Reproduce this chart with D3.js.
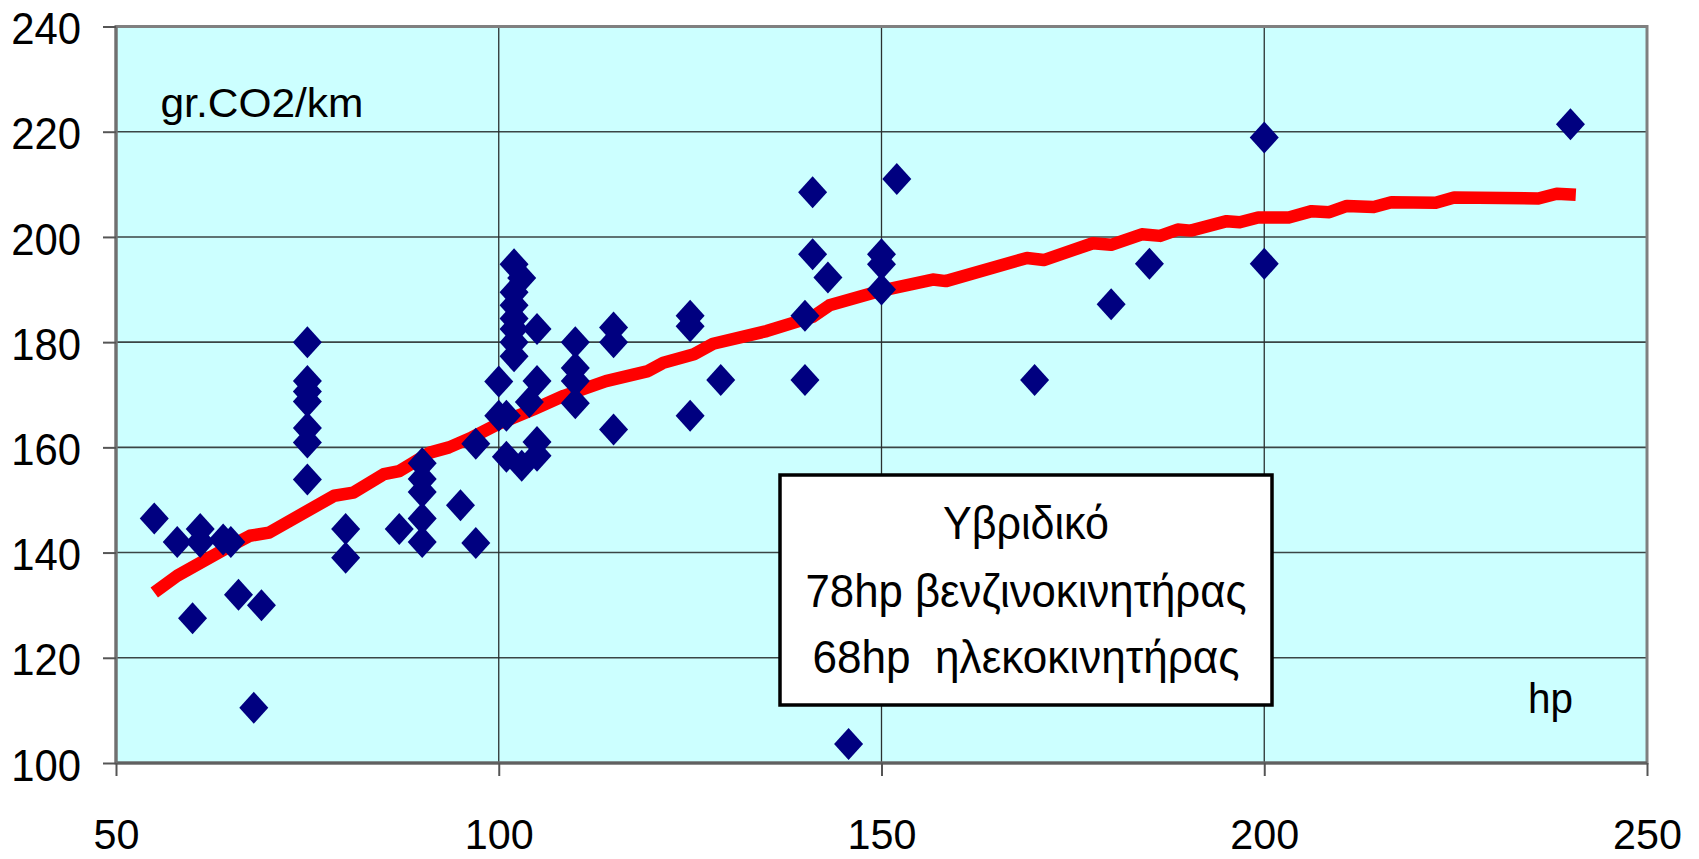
<!DOCTYPE html>
<html>
<head>
<meta charset="utf-8">
<script src="https://cdn.jsdelivr.net/npm/d3@7"></script>
<style>
  html, body { margin: 0; padding: 0; background: #ffffff; }
  svg { display: block; }
  text { font-family: "Liberation Sans", Arial, sans-serif; fill: #000; }
</style>
</head>
<body>
<svg id="chart" width="1699" height="859"></svg>
<script>
// ---- data ----
const hp = [55, 58, 60, 61, 61, 64, 65, 66, 68, 69,
            75, 75, 75, 75, 75, 75, 75, 80, 80, 87,
            90, 90, 90, 90, 90, 95, 97, 97, 100, 100,
            101, 101, 102, 102, 102, 102, 102, 102, 102, 103,
            103, 104, 105, 105, 105, 105, 110, 110, 110, 110,
            115, 115, 115, 125, 125, 125, 129, 140, 140, 141,
            141, 143, 145.7, 150, 150, 150, 152, 170, 180, 185,
            200, 200, 240];
const co2 = [146.5, 142, 127.5, 144.5, 142, 142.5, 142, 132, 110.5, 130,
             180, 172.6, 170.6, 168.7, 163.7, 160.9, 153.9, 144.5, 139, 144.5,
             157, 154, 151.5, 146.5, 142, 149, 160.7, 141.8, 172.5, 166,
             166, 158.2, 194.8, 189.5, 187, 184.5, 182.5, 180, 177.3, 192.2,
             156.5, 168.6, 182.5, 172.6, 161, 158.4, 180, 175.1, 172.6, 168.4,
             182.8, 180, 163.4, 185, 183, 166, 172.8, 185, 172.8, 208.5,
             196.7, 192.3, 103.6, 196.7, 194.8, 190, 211, 172.8, 187.2, 194.9,
             218.9, 194.9, 221.4];

const trendHp = [55, 58, 65, 67.5, 70, 78.5, 81, 85, 87, 91, 93.5, 96.5, 100, 104.5,
                 108.5, 114, 119.5, 121.5, 125.5, 128, 135, 141, 143.2, 150, 156.7,
                 158.4, 169, 171.2, 177.6, 180, 184, 186.4, 188.7, 190.4, 195.1, 196.8,
                 199.2, 203.2, 206.2, 208.5, 210.8, 214.3, 216.6, 222.4, 224.8, 235.8,
                 238.2, 240.7];
const trendCo2 = [132.4, 135.6, 141.3, 143.2, 143.8, 150.8, 151.4, 154.9, 155.5, 159.0,
                  160.0, 161.9, 164.5, 167.2, 169.8, 172.6, 174.5, 176.1, 177.7, 179.7,
                  182.1, 184.8, 187, 189.8, 191.9, 191.6, 196, 195.6, 198.8, 198.5,
                  200.5, 200.2, 201.4, 201.2, 203, 202.8, 203.7, 203.7, 204.9, 204.7,
                  205.9, 205.7, 206.6, 206.5, 207.5, 207.3, 208.2, 208];

const xTicks = [50, 100, 150, 200, 250];
const yTicks = [100, 120, 140, 160, 180, 200, 220, 240];
const yUnitLabel = "gr.CO2/km";
const xUnitLabel = "hp";
const noteLines = ["Υβριδικό", "78hp βενζινοκινητήρας", "68hp  ηλεκοκινητήρας"];

// ---- layout ----
const svg = d3.select("#chart");
const L = 116, R = 1647, T = 26.5, B = 763;
const x = d3.scaleLinear().domain([50, 250]).range([L, R]);
const y = d3.scaleLinear().domain([100, 240]).range([B, T]);

function condense(sel, f) {
  sel.each(function () {
    const w = this.getComputedTextLength();
    d3.select(this).attr("textLength", w * f).attr("lengthAdjust", "spacingAndGlyphs");
  });
}

// plot background
svg.append("rect").attr("x", L).attr("y", T).attr("width", R - L).attr("height", B - T)
  .attr("fill", "#ccffff");

// gridlines
svg.append("g").selectAll("line").data(yTicks.filter(d => d > 100 && d < 240)).join("line")
  .attr("x1", L).attr("x2", R).attr("y1", d => y(d)).attr("y2", d => y(d))
  .attr("stroke", "#3a4545").attr("stroke-width", 1.6);
svg.append("g").selectAll("line").data(xTicks.filter(d => d > 50 && d < 250)).join("line")
  .attr("x1", d => x(d)).attr("x2", d => x(d)).attr("y1", T).attr("y2", B)
  .attr("stroke", "#2a3030").attr("stroke-width", 1.3);

// frame
svg.append("rect").attr("x", L).attr("y", T).attr("width", R - L).attr("height", B - T)
  .attr("fill", "none").attr("stroke", "#808080").attr("stroke-width", 3);
svg.append("line").attr("x1", L).attr("x2", R).attr("y1", B).attr("y2", B)
  .attr("stroke", "#606060").attr("stroke-width", 3);
svg.append("line").attr("x1", L).attr("x2", L).attr("y1", T).attr("y2", B)
  .attr("stroke", "#707070").attr("stroke-width", 3);

// axes
const yAxis = svg.append("g").attr("transform", `translate(${L},0)`)
  .call(d3.axisLeft(y).tickValues(yTicks).tickSize(13).tickPadding(22).tickFormat(d3.format("d")));
const xAxis = svg.append("g").attr("transform", `translate(0,${B})`)
  .call(d3.axisBottom(x).tickValues(xTicks).tickSize(13).tickPadding(46).tickFormat(d3.format("d")));
[yAxis, xAxis].forEach(a => {
  a.select(".domain").remove();
  a.selectAll(".tick line").attr("stroke", "#555").attr("stroke-width", 2);
  a.selectAll(".tick text")
    .attr("font-family", "'Liberation Sans', Arial, sans-serif").attr("fill", "#000");
});
yAxis.selectAll(".tick text").attr("font-size", 45).attr("dy", "0.38em");
xAxis.selectAll(".tick text").attr("font-size", 43).attr("y", 86).attr("dy", 0);
condense(yAxis.selectAll(".tick text"), 0.93);
condense(xAxis.selectAll(".tick text"), 0.96);

// trend line
const line = d3.line().x((d, i) => x(trendHp[i])).y((d, i) => y(trendCo2[i]));
svg.append("path").datum(trendCo2).attr("d", line)
  .attr("fill", "none").attr("stroke", "#ff0000").attr("stroke-width", 12.5)
  .attr("stroke-linecap", "butt").attr("stroke-linejoin", "round");

// points (diamonds)
const hw = 14.5, hh = 16;
svg.append("g").selectAll("path").data(hp).join("path")
  .attr("d", (d, i) => {
    const cx = x(d), cy = y(co2[i]);
    return `M${cx},${cy - hh}L${cx + hw},${cy}L${cx},${cy + hh}L${cx - hw},${cy}Z`;
  })
  .attr("fill", "#000080");

// Unit labels
svg.append("text").attr("x", 160.5).attr("y", 116.5).attr("font-size", 41)
  .attr("textLength", 203).attr("lengthAdjust", "spacingAndGlyphs").text(yUnitLabel);
svg.append("text").attr("x", 1528).attr("y", 713).attr("font-size", 42)
  .attr("textLength", 45).attr("lengthAdjust", "spacingAndGlyphs").text(xUnitLabel);

// note box
svg.append("rect").attr("x", 780).attr("y", 475).attr("width", 492).attr("height", 230)
  .attr("fill", "#ffffff").attr("stroke", "#000").attr("stroke-width", 3.5);
const noteWidths = [166, 441, 427];
const noteBase = [539, 606.5, 673];
svg.append("g").selectAll("text").data(noteLines).join("text")
  .attr("x", 1026).attr("y", (d, i) => noteBase[i]).attr("text-anchor", "middle")
  .style("white-space", "pre")
  .attr("font-size", 47).attr("textLength", (d, i) => noteWidths[i])
  .attr("lengthAdjust", "spacingAndGlyphs").text(d => d);
</script>
</body>
</html>
